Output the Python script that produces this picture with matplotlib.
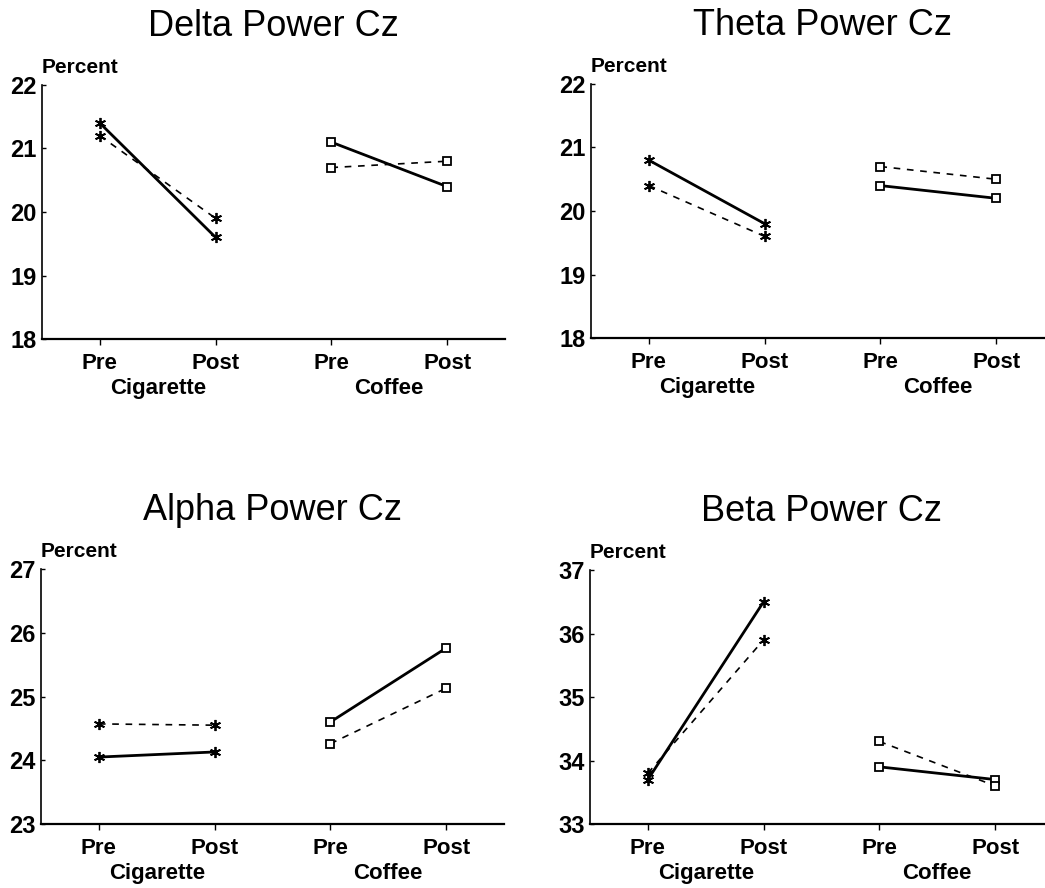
import matplotlib.pyplot as plt
from matplotlib import transforms

plt.rcParams["font.family"] = ["Liberation Sans", "DejaVu Sans"]

TICK_LABELS = ["Pre", "Post", "Pre", "Post"]
GROUPS = ["Cigarette", "Coffee"]

TITLES = ["Delta Power Cz", "Theta Power Cz", "Alpha Power Cz", "Beta Power Cz"]
Y_RANGES = [(18, 22), (18, 22), (23, 27), (33, 37)]

# (pre, post) per condition; solid and dashed series
delta_cig_solid = [21.4, 19.6]
delta_cig_dash = [21.2, 19.9]
delta_cof_solid = [21.1, 20.4]
delta_cof_dash = [20.7, 20.8]

theta_cig_solid = [20.8, 19.8]
theta_cig_dash = [20.4, 19.6]
theta_cof_solid = [20.4, 20.2]
theta_cof_dash = [20.7, 20.5]

alpha_cig_solid = [24.05, 24.13]
alpha_cig_dash = [24.57, 24.55]
alpha_cof_solid = [24.6, 25.76]
alpha_cof_dash = [24.26, 25.13]

beta_cig_solid = [33.7, 36.5]
beta_cig_dash = [33.8, 35.9]
beta_cof_solid = [33.9, 33.7]
beta_cof_dash = [34.3, 33.6]

PANELS = [
    (delta_cig_solid, delta_cig_dash, delta_cof_solid, delta_cof_dash),
    (theta_cig_solid, theta_cig_dash, theta_cof_solid, theta_cof_dash),
    (alpha_cig_solid, alpha_cig_dash, alpha_cof_solid, alpha_cof_dash),
    (beta_cig_solid, beta_cig_dash, beta_cof_solid, beta_cof_dash),
]

W, H = 1045, 888
fig = plt.figure(figsize=(W / 100, H / 100), dpi=100)

# axes boxes in pixels: left, top, width, height
boxes = [(42, 85, 463, 254), (591, 84, 463, 254), (41, 569, 463, 255), (590, 570, 463, 254)]

asterisk = (6, 2, 0)
for (left, top, width, height), title, yr, series in zip(boxes, TITLES, Y_RANGES, PANELS):
    ax = fig.add_axes([left / W, 1 - (top + height) / H, width / W, height / H])
    cig_solid, cig_dash, cof_solid, cof_dash = series
    ax.plot([1, 2], cig_solid, color="black", linewidth=2.0, marker=asterisk,
            markersize=8, markeredgewidth=1.3)
    ax.plot([1, 2], cig_dash, color="black", linewidth=1.2, dashes=(4, 4),
            marker=asterisk, markersize=8, markeredgewidth=1.3)
    ax.plot([3, 4], cof_solid, color="black", linewidth=2.0, marker="s",
            markersize=6, markerfacecolor="white", markeredgewidth=1.3)
    ax.plot([3, 4], cof_dash, color="black", linewidth=1.2, dashes=(4, 4),
            marker="s", markersize=6, markerfacecolor="white", markeredgewidth=1.3)

    ax.set_xlim(0.5, 4.5)
    ax.set_ylim(*yr)
    ax.set_yticks(range(yr[0], yr[1] + 1))
    ax.set_xticks([1, 2, 3, 4])
    ax.set_xticklabels(TICK_LABELS, fontsize=16, fontweight="bold")
    for lab in ax.get_yticklabels():
        lab.set_fontsize(17)
        lab.set_fontweight("bold")
    ax.tick_params(axis="x", direction="out", length=4, width=1, pad=6)
    ax.tick_params(axis="y", direction="in", length=3, width=1, pad=4)
    ax.spines["top"].set_visible(False)
    ax.spines["right"].set_visible(False)
    ax.spines["left"].set_linewidth(1.2)
    ax.spines["bottom"].set_linewidth(1.6)

    ax.set_title(title, fontsize=26, pad=35)
    ax.text(0, 1.03, "Percent", transform=ax.transAxes, fontsize=15,
            fontweight="bold", ha="left", va="bottom")

    trans = transforms.blended_transform_factory(ax.transData, ax.transAxes)
    for xpos, group in zip([1.5, 3.5], GROUPS):
        ax.text(xpos, -0.195, group, transform=trans, fontsize=16,
                fontweight="bold", ha="center", va="center")

fig.savefig("out.png", dpi=100)
